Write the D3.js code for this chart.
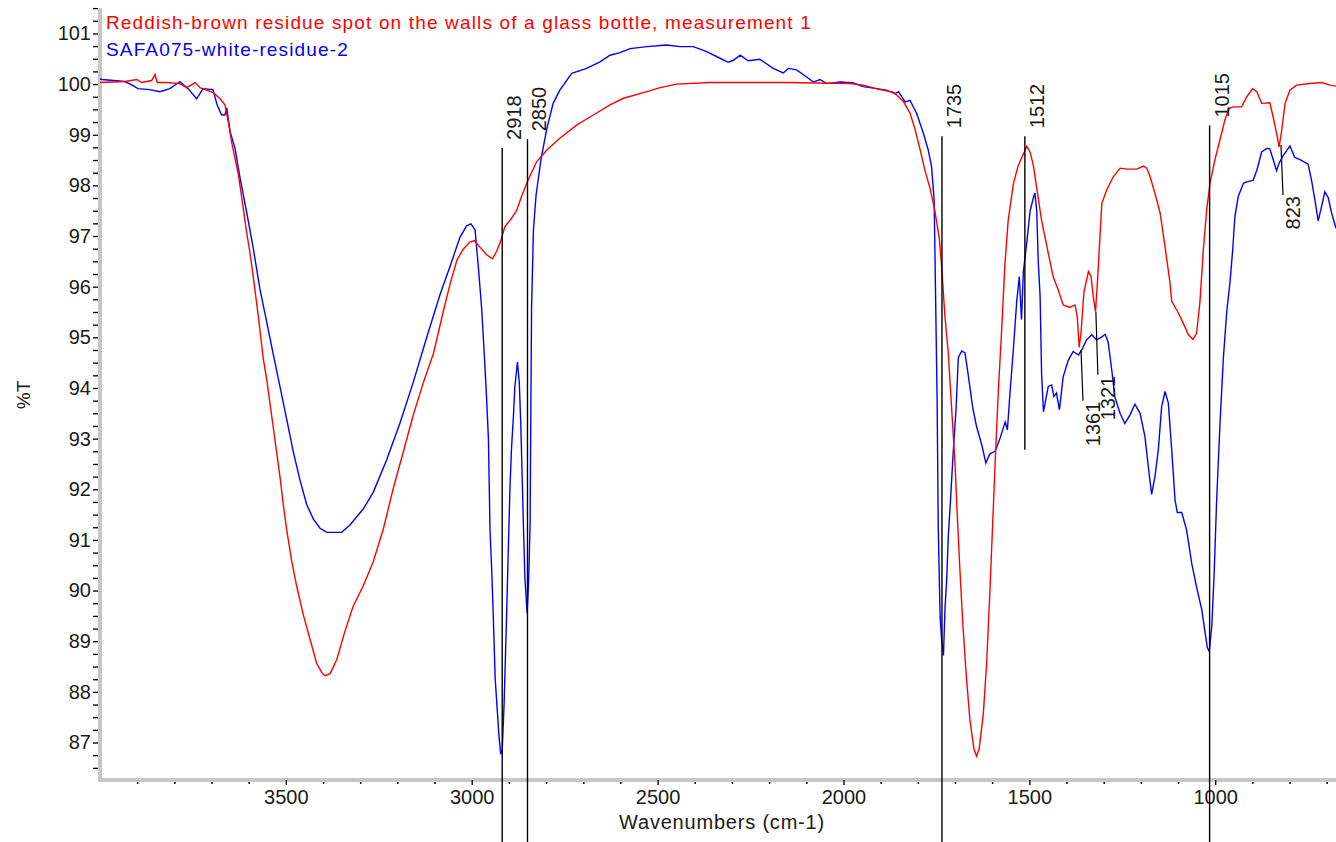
<!DOCTYPE html>
<html>
<head>
<meta charset="utf-8">
<script src="https://cdn.jsdelivr.net/npm/d3@7"></script>
<style>
  body { margin: 0; background: #fff; }
  text { font-family: "Liberation Sans", Arial, sans-serif; }
</style>
</head>
<body>
<div id="chart"></div>
<script>
// series names
const seriesNames = [
  "Reddish-brown residue spot on the walls of a glass bottle, measurement 1",
  "SAFA075-white-residue-2"
];

// [wavenumber, %T]
const redSpectrum = [
  [4000,100.03],[3933,100.05],[3901,100.09],[3888,100.03],[3861,100.07],[3852,100.19],[3846,100.03],
  [3821,100.03],[3785,100.01],[3767,99.93],[3744,100.03],[3731,99.93],[3695,99.83],[3677,99.71],
  [3664,99.59],[3655,99.26],[3646,98.86],[3637,98.54],[3628,98.22],[3615,97.57],[3606,97.09],
  [3597,96.69],[3588,96.21],[3578,95.64],[3570,95.16],[3561,94.59],[3552,94.19],[3543,93.71],
  [3534,93.23],[3525,92.74],[3516,92.26],[3507,91.70],[3498,91.21],[3484,90.57],[3471,90.09],
  [3453,89.52],[3435,89.04],[3417,88.56],[3404,88.39],[3395,88.32],[3381,88.36],[3363,88.64],
  [3341,89.20],[3319,89.69],[3292,90.09],[3265,90.57],[3238,91.21],[3211,92.02],[3184,92.74],
  [3157,93.47],[3130,94.11],[3103,94.68],[3076,95.53],[3058,96.06],[3040,96.52],[3023,96.74],
  [3005,96.88],[2993,96.91],[2978,96.78],[2960,96.63],[2944,96.55],[2933,96.70],[2922,96.90],
  [2911,97.18],[2893,97.35],[2879,97.51],[2866,97.78],[2848,98.11],[2825,98.47],[2798,98.70],
  [2763,98.93],[2718,99.19],[2673,99.39],[2628,99.59],[2592,99.72],[2538,99.83],[2493,99.93],
  [2449,100.00],[2359,100.03],[2163,100.03],[1982,100.01],[1947,99.98],[1902,99.89],[1866,99.84],
  [1839,99.66],[1821,99.43],[1808,99.12],[1794,98.71],[1781,98.30],[1767,97.94],[1754,97.49],
  [1742,96.95],[1736,96.41],[1727,95.41],[1718,94.69],[1709,93.60],[1700,92.52],[1694,91.52],
  [1687,90.44],[1679,89.35],[1670,88.36],[1660,87.46],[1649,86.87],[1642,86.73],[1635,86.87],
  [1624,87.55],[1615,88.54],[1606,89.99],[1599,91.25],[1592,92.52],[1583,94.00],[1574,95.20],
  [1566,96.40],[1557,97.30],[1543,98.03],[1530,98.39],[1516,98.62],[1507,98.77],[1498,98.66],
  [1489,98.39],[1480,97.94],[1467,97.31],[1453,96.80],[1436,96.20],[1422,95.93],[1409,95.64],
  [1391,95.59],[1377,95.64],[1371,95.41],[1366,94.80],[1361,95.08],[1353,95.90],[1341,96.30],
  [1334,96.20],[1328,95.80],[1322,95.51],[1317,96.06],[1312,96.72],[1305,97.64],[1292,97.91],
  [1274,98.17],[1256,98.34],[1238,98.32],[1211,98.32],[1193,98.38],[1184,98.34],[1175,98.17],
  [1162,97.84],[1148,97.45],[1135,96.79],[1122,96.10],[1117,95.71],[1099,95.48],[1086,95.28],
  [1072,95.05],[1060,94.96],[1050,95.08],[1041,95.70],[1032,96.72],[1023,97.51],[1014,98.04],
  [1001,98.50],[987,98.90],[974,99.29],[962,99.52],[951,99.55],[929,99.55],[915,99.75],
  [899,99.91],[888,99.85],[875,99.62],[853,99.63],[844,99.35],[835,99.03],[828,98.76],
  [821,99.09],[812,99.62],[799,99.88],[781,99.98],[745,100.01],[714,100.03],[691,99.98],[675,99.96]
];

const blueSpectrum = [
  [4000,100.10],[3995,100.09],[3933,100.05],[3911,99.97],[3898,99.91],[3866,99.89],[3839,99.85],
  [3812,99.91],[3785,100.05],[3763,99.91],[3740,99.71],[3723,99.91],[3696,99.89],[3685,99.59],
  [3673,99.39],[3664,99.39],[3659,99.53],[3650,99.06],[3637,98.74],[3623,98.14],[3605,97.45],
  [3588,96.77],[3570,95.96],[3552,95.32],[3534,94.67],[3516,94.03],[3498,93.39],[3480,92.74],
  [3462,92.18],[3444,91.70],[3426,91.41],[3408,91.23],[3390,91.15],[3350,91.15],[3327,91.30],
  [3292,91.61],[3265,91.94],[3229,92.58],[3193,93.31],[3157,94.12],[3121,95.00],[3085,95.85],
  [3058,96.41],[3032,96.97],[3014,97.20],[3002,97.24],[2991,97.12],[2982,96.37],[2973,95.54],
  [2966,94.63],[2960,93.80],[2955,92.97],[2953,92.13],[2951,91.23],[2946,90.36],[2942,89.49],
  [2937,88.28],[2931,87.60],[2927,87.15],[2922,86.77],[2918,86.84],[2913,87.75],[2906,89.56],
  [2902,90.70],[2897,92.06],[2893,92.81],[2888,93.42],[2884,94.02],[2877,94.51],[2872,94.10],
  [2868,93.27],[2865,92.44],[2861,91.30],[2857,90.25],[2851,89.56],[2847,90.17],[2843,91.30],
  [2841,93.57],[2839,95.61],[2834,97.12],[2827,97.80],[2814,98.50],[2798,99.12],[2781,99.62],
  [2763,99.88],[2731,100.21],[2691,100.31],[2655,100.44],[2628,100.57],[2601,100.62],[2574,100.70],
  [2529,100.74],[2476,100.77],[2440,100.74],[2404,100.74],[2368,100.64],[2332,100.51],[2310,100.43],
  [2296,100.47],[2278,100.57],[2256,100.46],[2225,100.49],[2189,100.31],[2162,100.22],[2148,100.31],
  [2126,100.28],[2099,100.14],[2081,100.04],[2063,100.09],[2045,100.01],[2009,100.04],[1973,100.02],
  [1947,99.95],[1911,99.91],[1884,99.88],[1861,99.81],[1852,99.85],[1834,99.65],[1821,99.68],
  [1803,99.42],[1785,99.03],[1772,98.70],[1763,98.37],[1756,97.71],[1754,96.72],[1751,95.23],
  [1748,93.74],[1745,91.25],[1740,89.49],[1736,89.04],[1731,88.72],[1727,89.62],[1722,90.26],
  [1718,91.07],[1712,91.79],[1705,92.70],[1697,93.60],[1691,94.60],[1682,94.73],[1673,94.69],
  [1664,94.24],[1652,93.60],[1642,93.24],[1628,92.88],[1617,92.52],[1606,92.70],[1592,92.75],
  [1579,93.00],[1565,93.33],[1559,93.17],[1552,93.90],[1543,94.76],[1534,95.70],[1527,96.20],
  [1521,95.35],[1516,96.30],[1507,96.86],[1498,97.49],[1489,97.76],[1485,97.85],[1480,97.49],
  [1476,96.50],[1471,95.80],[1467,94.29],[1462,93.53],[1449,94.03],[1440,94.06],[1434,93.83],
  [1427,93.90],[1419,93.57],[1409,94.22],[1395,94.55],[1382,94.72],[1368,94.65],[1359,94.75],
  [1346,94.95],[1332,95.05],[1319,94.95],[1305,95.01],[1296,95.06],[1288,94.91],[1278,94.34],
  [1270,93.83],[1256,93.50],[1243,93.30],[1229,93.47],[1216,93.68],[1202,93.50],[1189,93.04],
  [1180,92.45],[1171,91.90],[1162,92.25],[1153,92.78],[1144,93.63],[1135,93.93],[1126,93.70],
  [1117,92.78],[1108,91.79],[1102,91.54],[1090,91.54],[1077,91.20],[1063,90.53],[1050,90.07],
  [1036,89.62],[1027,89.16],[1021,88.87],[1016,88.80],[1009,89.31],[1003,90.30],[996,91.80],
  [987,93.31],[978,94.59],[969,95.50],[960,96.10],[953,96.72],[947,97.38],[938,97.78],
  [924,98.04],[915,98.07],[898,98.10],[888,98.30],[875,98.66],[861,98.73],[853,98.72],
  [844,98.51],[835,98.29],[828,98.44],[817,98.59],[799,98.78],[786,98.55],[772,98.51],
  [750,98.42],[740,98.07],[731,97.68],[723,97.30],[713,97.61],[705,97.87],[696,97.76],
  [687,97.46],[675,97.15]
];

// peak markers: label above the line (top / bottom in %T)
const peaksAbove = [
  { wn: 2918, top: 98.74, bottom: null },
  { wn: 2850, top: 98.91, bottom: null },
  { wn: 1735, top: 98.97, bottom: null },
  { wn: 1512, top: 98.97, bottom: 92.78 },
  { wn: 1015, top: 99.18, bottom: null }
];
// peak markers: label below a short leader
const peaksBelow = [
  { wn: 1361, top: 94.75, bottom: 93.75 },
  { wn: 1321, top: 95.51, bottom: 94.26 },
  { wn: 823, top: 98.80, bottom: 97.81 }
];

const yMajor = d3.range(87, 102);
const xMajor = [3500, 3000, 2500, 2000, 1500, 1000];

const width = 1336, height = 842;
const svg = d3.select('#chart')
  .append('svg')
    .attr('width', width)
    .attr('height', height);

const x = d3.scaleLinear().domain([4000, 675]).range([100, 1336]);
const y = d3.scaleLinear().domain([86.26, 101.66]).range([780, 0]);

// gray axis bars
svg.append('line')
  .attr('x1', 100).attr('x2', 100)
  .attr('y1', y(101.5)).attr('y2', 782)
  .attr('stroke', '#c6c6c6').attr('stroke-width', 4);
svg.append('line')
  .attr('x1', 98).attr('x2', width)
  .attr('y1', 780).attr('y2', 780)
  .attr('stroke', '#c6c6c6').attr('stroke-width', 4);

// y axis: ticks every 0.25, labels on integers
let yTicks = d3.range(86.5, 101.6, 0.25);
let yAxis = svg.append('g')
  .attr('transform', 'translate(98,0)')
  .call(d3.axisLeft(y)
    .tickValues(yTicks)
    .tickSize(5)
    .tickPadding(2)
    .tickFormat(d => yMajor.includes(d) ? d3.format('d')(d) : ''));
yAxis.select('.domain').remove();
yAxis.selectAll('line').attr('stroke', '#000').attr('stroke-width', 1.3);
yAxis.selectAll('text')
  .attr('font-size', 20)
  .attr('fill', '#1a1a1a')
  .style('font-family', '"Liberation Sans", Arial, sans-serif');

// x axis: minor ticks every 100, labelled ticks every 500
let xMinor = d3.range(700, 4001, 100).filter(d => d % 500 !== 0);
let xMinorAxis = svg.append('g')
  .attr('transform', 'translate(0,782)')
  .call(d3.axisBottom(x).tickValues(xMinor).tickSize(2).tickFormat(''));
xMinorAxis.select('.domain').remove();
xMinorAxis.selectAll('line').attr('stroke', '#000').attr('stroke-width', 1.5);

let xAxis = svg.append('g')
  .attr('transform', 'translate(0,780)')
  .call(d3.axisBottom(x).tickValues(xMajor).tickSize(5).tickPadding(5).tickFormat(d3.format('d')));
xAxis.select('.domain').remove();
xAxis.selectAll('line').attr('stroke', '#000').attr('stroke-width', 1.3);
xAxis.selectAll('text')
  .attr('font-size', 20)
  .attr('fill', '#1a1a1a')
  .style('font-family', '"Liberation Sans", Arial, sans-serif');

// axis titles
svg.append('text')
  .attr('x', 722).attr('y', 829)
  .attr('text-anchor', 'middle')
  .attr('font-size', 20)
  .attr('letter-spacing', 0.8)
  .attr('fill', '#1a1a1a')
  .text('Wavenumbers (cm-1)');
svg.append('text')
  .attr('transform', 'translate(30,395) rotate(-90)')
  .attr('text-anchor', 'middle')
  .attr('font-size', 19)
  .attr('fill', '#1a1a1a')
  .text('%T');

// spectra
let line = d3.line()
  .x(d => x(d[0]))
  .y(d => y(d[1]));

svg.append('path')
  .datum(blueSpectrum)
  .attr('fill', 'none')
  .attr('stroke', '#0000ff')
  .attr('stroke-width', 1.4)
  .attr('d', line);
svg.append('path')
  .datum(redSpectrum)
  .attr('fill', 'none')
  .attr('stroke', '#ff0000')
  .attr('stroke-width', 1.4)
  .attr('d', line);

// legend
let colors = ['#ff0000', '#0000ff'];
svg.selectAll('.legend')
  .data(seriesNames)
  .enter()
  .append('text')
    .attr('class', 'legend')
    .attr('x', 106)
    .attr('y', (d, i) => 29 + i * 27)
    .attr('font-size', 19)
    .attr('letter-spacing', 1.15)
    .attr('fill', (d, i) => colors[i])
    .text(d => d);

// peak markers
let above = svg.selectAll('.peak-above')
  .data(peaksAbove)
  .enter()
  .append('g');
above.append('line')
  .attr('x1', d => x(d.wn)).attr('x2', d => x(d.wn))
  .attr('y1', d => y(d.top))
  .attr('y2', d => d.bottom === null ? height : y(d.bottom))
  .attr('stroke', '#000').attr('stroke-width', 1.4);
above.append('text')
  .attr('transform', d => `translate(${x(d.wn) + 19},${y(d.top) - 8}) rotate(-90)`)
  .attr('font-size', 20)
  .attr('fill', '#1a1a1a')
  .text(d => d.wn);

let below = svg.selectAll('.peak-below')
  .data(peaksBelow)
  .enter()
  .append('g');
below.append('line')
  .attr('x1', d => x(d.wn)).attr('x2', d => x(d.wn) + 2)
  .attr('y1', d => y(d.top))
  .attr('y2', d => y(d.bottom))
  .attr('stroke', '#000').attr('stroke-width', 1.2);
below.append('text')
  .attr('transform', d => `translate(${x(d.wn) + 19},${y(d.bottom) + 1}) rotate(-90)`)
  .attr('text-anchor', 'end')
  .attr('font-size', 20)
  .attr('fill', '#1a1a1a')
  .text(d => d.wn);
</script>
</body>
</html>
